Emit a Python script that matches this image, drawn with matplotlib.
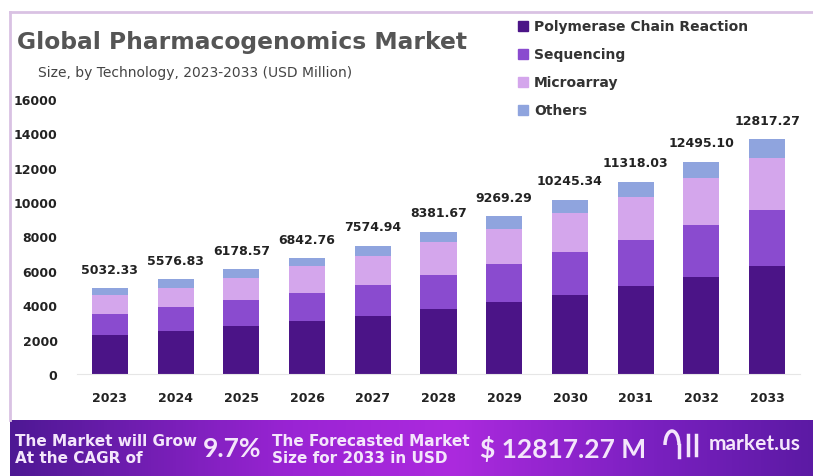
import numpy as np
from matplotlib import pyplot as plt
from matplotlib.colors import LinearSegmentedColormap
from matplotlib.lines import Line2D
from matplotlib.patches import Rectangle, Arc

years = ["2023", "2024", "2025", "2026", "2027", "2028", "2029", "2030", "2031", "2032", "2033"]
totals = ["5032.33", "5576.83", "6178.57", "6842.76", "7574.94", "8381.67",
          "9269.29", "10245.34", "11318.03", "12495.10", "12817.27"]

# segment heights
pcr = [2270, 2520, 2810, 3060, 3390, 3780, 4170, 4610, 5130, 5660, 6260]
sequencing = [1220, 1360, 1480, 1650, 1780, 1980, 2230, 2470, 2680, 3000, 3290]
microarray = [1100, 1120, 1300, 1550, 1700, 1900, 2040, 2270, 2460, 2720, 2990]
others = [410, 500, 510, 480, 580, 610, 740, 790, 910, 960, 1120]

series_names = ["Polymerase Chain Reaction", "Sequencing", "Microarray", "Others"]
series_colors = ["#4b1487", "#8a4bcf", "#d4a6ec", "#8fa4de"]

yticks = [0, 2000, 4000, 6000, 8000, 10000, 12000, 14000, 16000]

plt.rcParams["font.family"] = ["DejaVu Sans"]

fig = plt.figure(figsize=(8.13, 4.77), dpi=100)
W, H = 813, 477


def fx(px):
    return px / W


def fy(py):
    return 1 - py / H


# frame lines
fig.add_artist(Line2D([fx(10), 1], [fy(13), fy(13)], color="#d9c2e3", lw=2))
fig.add_artist(Line2D([fx(10), fx(10)], [fy(13), fy(421)], color="#d9c2e3", lw=2))

ax = fig.add_axes([fx(77), fy(375), fx(800) - fx(77), fy(100) - fy(375)])
x = np.arange(len(years))
bottom = np.zeros(len(years))
for values, name, color in zip([pcr, sequencing, microarray, others], series_names, series_colors):
    ax.bar(x, values, width=0.55, bottom=bottom, color=color, label=name)
    bottom += np.array(values)

for xi, top, label in zip(x, bottom, totals):
    ax.annotate(label, (xi, top), xytext=(0, 9), textcoords="offset points",
                ha="center", va="bottom", fontsize=9, fontweight="bold", color="#222222")

ax.set_xlim(-0.5, len(years) - 0.5)
ax.set_ylim(0, 16000)
ax.set_xticks(x)
ax.set_xticklabels(years, fontsize=9, fontweight="bold", color="#222222")
ax.set_yticks(yticks)
ax.set_yticklabels([str(t) for t in yticks], fontsize=9, fontweight="bold", color="#222222")
ax.tick_params(length=0)
ax.tick_params(axis="x", pad=12)
ax.tick_params(axis="y", pad=14)
for side in ["top", "right", "left"]:
    ax.spines[side].set_visible(False)
ax.spines["bottom"].set_color("#e6e6e6")
ax.patch.set_alpha(0)

# titles
fig.text(fx(17), fy(42), "Global Pharmacogenomics Market", fontsize=16.8, fontweight="bold",
         color="#555555", va="center", ha="left")
fig.text(fx(38), fy(73), "Size, by Technology, 2023-2033 (USD Million)", fontsize=10,
         color="#444444", va="center", ha="left")

# legend
for i, (name, color) in enumerate(zip(series_names, series_colors)):
    yy = 27 + i * 28
    fig.add_artist(Rectangle((fx(518), fy(yy + 5)), fx(10), fy(yy - 5) - fy(yy + 5), color=color))
    fig.text(fx(534), fy(yy), name, fontsize=10, fontweight="bold", color="#333333",
             va="center", ha="left")

# footer banner with gradient
banner = fig.add_axes([fx(10), 0, 1 - fx(10), fy(421)])
cmap = LinearSegmentedColormap.from_list(
    "banner", [(0, "#4e1894"), (0.35, "#9a24d4"), (0.55, "#ac2ade"), (0.8, "#7a20c0"), (1, "#5c1aa4")])
banner.imshow(np.linspace(0, 1, 256).reshape(1, -1), cmap=cmap, aspect="auto", extent=[0, 1, 0, 1])
banner.set_axis_off()

text_color = "#f4e6fb"
fig.text(fx(15), fy(450), "The Market will Grow\nAt the CAGR of", fontsize=11, fontweight="bold",
         color=text_color, va="center", ha="left", linespacing=1.2)
fig.text(fx(203), fy(449), "9.7%", fontsize=19, fontweight="bold", color=text_color,
         va="center", ha="left", family="Lato")
fig.text(fx(272), fy(450), "The Forecasted Market\nSize for 2033 in USD", fontsize=11,
         fontweight="bold", color=text_color, va="center", ha="left", linespacing=1.2)
fig.text(fx(480), fy(449), "$ 12817.27 M", fontsize=19, fontweight="bold", color=text_color,
         va="center", ha="left", family="Lato")

# simple logo mark
fig.add_artist(Arc((fx(672), fy(446)), fx(14), fy(432) - fy(460),
                   theta1=0, theta2=180, color=text_color, lw=2.5))
fig.add_artist(Line2D([fx(679), fx(679)], [fy(446), fy(458)], color=text_color, lw=2.5))
fig.add_artist(Line2D([fx(688), fx(688)], [fy(436), fy(456)], color=text_color, lw=2.5))
fig.add_artist(Line2D([fx(696), fx(696)], [fy(436), fy(456)], color=text_color, lw=2.5))
fig.text(fx(709), fy(444), "market.us", fontsize=15, fontweight="bold", color=text_color,
         va="center", ha="left", family="Lato")

fig.savefig("out.png", dpi=100)
